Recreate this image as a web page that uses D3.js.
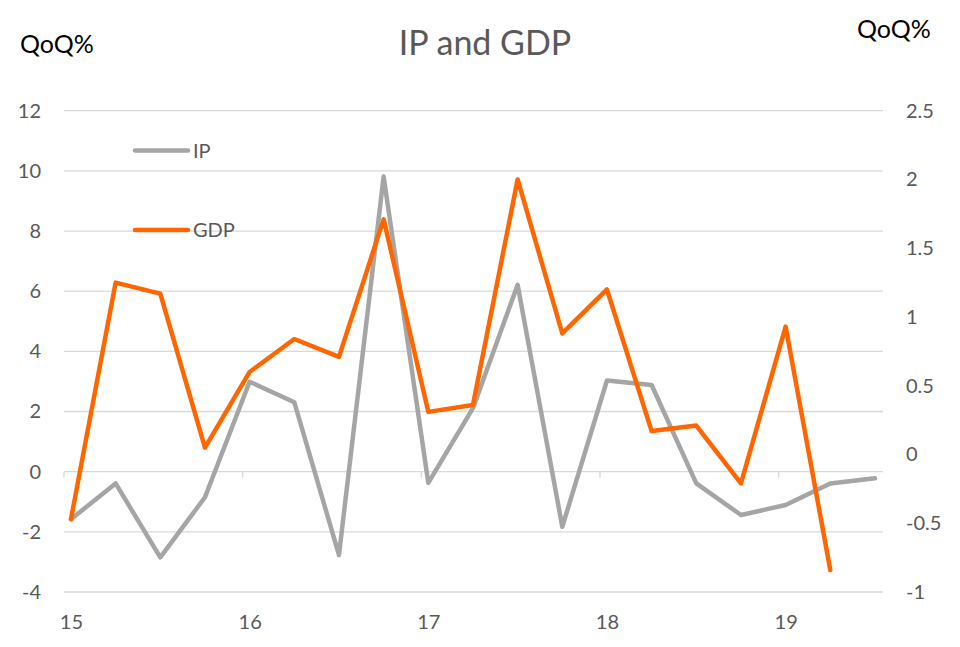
<!DOCTYPE html>
<html>
<head>
<meta charset="utf-8">
<script src="https://cdn.jsdelivr.net/npm/d3@7"></script>
<style>
  body { margin: 0; background: #fff; }
  text { font-family: Lato, "Open Sans", sans-serif; }
</style>
</head>
<body>
<svg id="chart"></svg>
<script>
// quarterly data, 2015Q1 ..
let quarters = [15, 15.25, 15.5, 15.75, 16, 16.25, 16.5, 16.75, 17, 17.25, 17.5, 17.75, 18, 18.25, 18.5, 18.75, 19, 19.25, 19.5]
let ipValues = [-1.58, -0.39, -2.85, -0.85, 2.99, 2.31, -2.77, 9.81, -0.37, 2.11, 6.21, -1.83, 3.03, 2.88, -0.39, -1.44, -1.11, -0.39, -0.22]
let gdpValues = [-0.47, 1.25, 1.17, 0.05, 0.6, 0.84, 0.71, 1.71, 0.31, 0.36, 2.0, 0.88, 1.2, 0.17, 0.21, -0.21, 0.93, -0.84]
let leftTicks = [-4, -2, 0, 2, 4, 6, 8, 10, 12]
let rightTicks = [-1, -0.5, 0, 0.5, 1, 1.5, 2, 2.5]
let yearTicks = [15, 16, 17, 18, 19]

let width = 960
let height = 647
let margin = { top: 110.7, bottom: 55, left: 64, right: 77 }

let container = d3.select("#chart")
  .attr("width", width)
  .attr("height", height)

// the points sit a few px right of the plot's left edge, like the excel date axis
let xScale = d3.scaleLinear()
  .domain([14.961, 19.545])
  .range([margin.left, width - margin.right])
let yLeft = d3.scaleLinear()
  .domain([-4, 12])
  .range([height - margin.bottom, margin.top])
let yRight = d3.scaleLinear()
  .domain([-1, 2.5])
  .range([height - margin.bottom, margin.top])

// plain labels: "2" not "2.0", hyphen for minus
let fmt = d => String(d)

// gridlines
container.append("g")
  .selectAll("line")
  .data(leftTicks)
  .enter().append("line")
  .attr("x1", margin.left)
  .attr("x2", width - margin.right)
  .attr("y1", d => yLeft(d))
  .attr("y2", d => yLeft(d))
  .attr("stroke", "#d9d9d9")
  .attr("stroke-width", 1.3)

// tick marks on the zero line
let tickOffset = xScale(15) - margin.left
container.append("g")
  .selectAll("line")
  .data(yearTicks)
  .enter().append("line")
  .attr("x1", d => xScale(d) - tickOffset)
  .attr("x2", d => xScale(d) - tickOffset)
  .attr("y1", yLeft(0))
  .attr("y2", yLeft(0) + 6)
  .attr("stroke", "#d9d9d9")
  .attr("stroke-width", 1.3)

// axis labels
let leftAxis = container.append("g")
  .attr("transform", `translate(${margin.left},0)`)
  .call(d3.axisLeft(yLeft).tickValues(leftTicks).tickFormat(fmt).tickSize(0).tickPadding(23))
leftAxis.select(".domain").remove()

let rightAxis = container.append("g")
  .attr("transform", `translate(${width - margin.right},0)`)
  .call(d3.axisRight(yRight).tickValues(rightTicks).tickFormat(fmt).tickSize(0).tickPadding(23))
rightAxis.select(".domain").remove()

let bottomAxis = container.append("g")
  .attr("transform", `translate(0,${height - margin.bottom})`)
  .call(d3.axisBottom(xScale).tickValues(yearTicks).tickFormat(fmt).tickSize(0).tickPadding(23))
bottomAxis.select(".domain").remove()

container.selectAll(".tick text")
  .style("font-size", "20px")
  .style("font-family", "Lato, 'Open Sans', sans-serif")
  .attr("fill", "#595959")

// lines
let ipLine = d3.line()
  .x((d, i) => xScale(quarters[i]))
  .y(d => yLeft(d))
let gdpLine = d3.line()
  .x((d, i) => xScale(quarters[i]))
  .y(d => yRight(d))

container.append("path")
  .attr("d", ipLine(ipValues))
  .attr("fill", "none")
  .attr("stroke", "#a5a5a5")
  .attr("stroke-width", 4.5)
  .attr("stroke-linejoin", "round")
  .attr("stroke-linecap", "round")

container.append("path")
  .attr("d", gdpLine(gdpValues))
  .attr("fill", "none")
  .attr("stroke", "#ff6600")
  .attr("stroke-width", 4.5)
  .attr("stroke-linejoin", "round")
  .attr("stroke-linecap", "round")

// legend
let legend = [
  { name: "IP", color: "#a5a5a5", y: 150.5 },
  { name: "GDP", color: "#ff6600", y: 230 }
]
let legendItems = container.append("g")
  .selectAll("g")
  .data(legend)
  .enter().append("g")
  .attr("transform", d => `translate(135,${d.y})`)
legendItems.append("line")
  .attr("x1", 0)
  .attr("x2", 53)
  .attr("stroke", d => d.color)
  .attr("stroke-width", 4.5)
  .attr("stroke-linecap", "round")
legendItems.append("text")
  .attr("x", 58)
  .attr("dy", "0.35em")
  .style("font-size", "20px")
  .attr("fill", "#595959")
  .text(d => d.name)

// title and unit labels
container.append("text")
  .attr("x", 485)
  .attr("y", 55)
  .attr("text-anchor", "middle")
  .style("font-size", "34px")
  .attr("fill", "#595959")
  .text("IP and GDP")

container.append("text")
  .attr("x", 20)
  .attr("y", 52.5)
  .style("font-size", "25px")
  .attr("fill", "#000")
  .text("QoQ%")

container.append("text")
  .attr("x", 857)
  .attr("y", 38)
  .style("font-size", "25px")
  .attr("fill", "#000")
  .text("QoQ%")
</script>
</body>
</html>
